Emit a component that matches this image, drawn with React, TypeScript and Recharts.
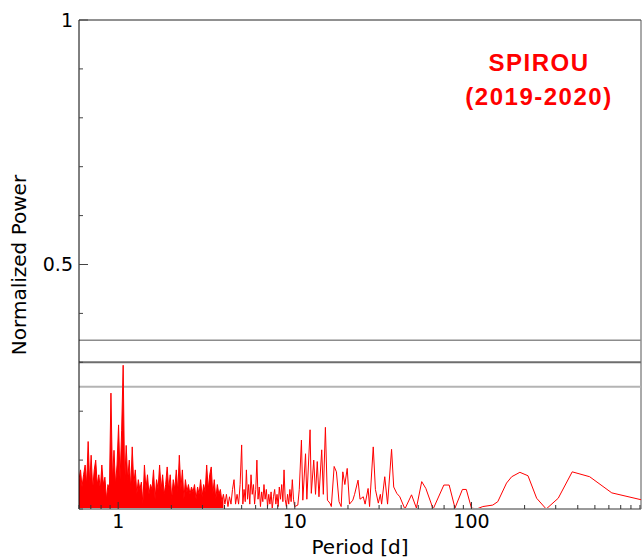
import { ComposedChart, Line, Area, XAxis, YAxis, ReferenceLine } from "recharts";

// periodogram, split by period range
// below ~4 d the curve is so dense that it reads as a filled band: values there are its upper envelope
const PERIODS_A = [
  0.6, 0.612, 0.624, 0.637, 0.65, 0.663, 0.676, 0.69, 0.703, 0.717,
  0.732, 0.746, 0.761, 0.777, 0.792, 0.808, 0.824, 0.841, 0.858, 0.875,
  0.892, 0.91, 0.928, 0.947, 0.966, 0.985, 1.005,
];
const POWER_A = [
  0.06, 0.08, 0.045, 0.07, 0.09, 0.05, 0.138, 0.05, 0.11, 0.04,
  0.08, 0.1, 0.05, 0.07, 0.04, 0.09, 0.05, 0.065, 0.02, 0.05,
  0.04, 0.237, 0.06, 0.12, 0.05, 0.09, 0.172,
];

const PERIODS_B = [
  1.025, 1.046, 1.067, 1.088, 1.11, 1.132, 1.155, 1.178, 1.201, 1.225,
  1.25, 1.275, 1.3, 1.326, 1.353, 1.38, 1.408, 1.436, 1.465, 1.494,
  1.524, 1.554, 1.585, 1.617, 1.649, 1.682, 1.716, 1.75, 1.785, 1.821,
  1.857, 1.894, 1.932, 1.971, 2.01,
];
const POWER_B = [
  0.06, 0.16, 0.294, 0.05, 0.13, 0.06, 0.1, 0.04, 0.127, 0.05,
  0.08, 0.03, 0.06, 0.04, 0.055, 0.01, 0.09, 0.04, 0.07, 0.03,
  0.05, 0.04, 0.08, 0.02, 0.06, 0.04, 0.09, 0.04, 0.07, 0.03,
  0.05, 0.086, 0.04, 0.07, 0.02,
];

const PERIODS_C = [
  2.05, 2.091, 2.133, 2.176, 2.219, 2.264, 2.309, 2.355, 2.402, 2.45,
  2.499, 2.549, 2.6, 2.652, 2.705, 2.76, 2.815, 2.871, 2.929, 2.987,
  3.047, 3.108, 3.17, 3.234, 3.298, 3.364, 3.432, 3.5, 3.57, 3.642,
  3.715, 3.789, 3.865, 3.942, 4.021, 4.101, 4.183, 4.267, 4.352, 4.439,
  4.528, 4.619, 4.711, 4.805, 4.902, 5.0,
];
const POWER_C = [
  0.06, 0.04, 0.08, 0.035, 0.11, 0.04, 0.08, 0.02, 0.06, 0.035,
  0.05, 0.03, 0.045, 0.035, 0.05, 0.02, 0.045, 0.03, 0.06, 0.025,
  0.05, 0.035, 0.09, 0.04, 0.07, 0.086, 0.03, 0.06, 0.02, 0.05,
  0.03, 0.04, 0.015, 0.03, 0.01, 0.03, 0.005, 0.025, 0.01, 0.04,
  0.06, 0.01, 0.03, 0.01, 0.05, 0.131,
];

const PERIODS_D = [
  5.08, 5.16, 5.24, 5.32, 5.4, 5.48, 5.56, 5.65, 5.74, 5.83,
  5.92, 6.01, 6.1, 6.19, 6.29, 6.39, 6.49, 6.59, 6.69, 6.79,
  6.9, 7.01, 7.12, 7.23, 7.34, 7.45, 7.57, 7.69, 7.81, 7.93,
  8.05, 8.17, 8.3, 8.43, 8.56, 8.69, 8.82, 8.96, 9.1, 9.24,
  9.38, 9.53, 9.68, 9.83, 9.98,
];
const POWER_D = [
  0.01, 0.04, 0.015, 0.08, 0.02, 0.05, 0.01, 0.07, 0.03, 0.05,
  0.01, 0.04, 0.1, 0.02, 0.045, 0.005, 0.035, 0.015, 0.05, 0.02,
  0.04, 0.005, 0.03, 0.01, 0.035, 0.0, 0.025, 0.04, 0.01, 0.03,
  0.005, 0.045, 0.02, 0.05, 0.015, 0.08, 0.02, 0.005, 0.03, 0.01,
  0.04, 0.015, 0.06, 0.02, 0.005,
];

const PERIODS_E = [
  10.4, 10.6, 10.9, 11.1, 11.5, 11.7, 12.2, 12.4, 12.8, 13.1,
  13.4, 13.7, 14.2, 14.5, 14.9, 15.3, 15.8, 16.1, 16.7, 17.2,
  17.8, 18.3, 18.7, 19.2, 19.8, 20.4, 21.3, 21.8, 22.8, 23.4,
  24.4, 25.0, 26.0, 26.5, 27.8, 28.6, 29.7, 30.5, 31.0, 32.3,
  33.5, 35.3, 36.3, 37.8, 39.3,
];
const POWER_E = [
  0.008, 0.04, 0.141, 0.018, 0.113, 0.02, 0.162, 0.032, 0.1, 0.03,
  0.097, 0.025, 0.121, 0.03, 0.167, 0.018, 0.012, 0.005, 0.087, 0.076,
  0.015, 0.005, 0.076, 0.05, 0.083, 0.01, 0.018, 0.03, 0.059, 0.02,
  0.025, 0.01, 0.042, 0.005, 0.127, 0.04, 0.012, 0.03, 0.01, 0.066,
  0.01, 0.122, 0.045, 0.032, 0.025,
];

const PERIODS_F = [
  42, 45.8, 48.8, 52.3, 55.2, 60.7, 69.8, 74.8, 80.7, 88.9,
  93.5, 100, 107, 116, 132, 141, 158, 169, 188, 209,
  234, 265, 310, 372, 467, 623, 912,
];
const POWER_F = [
  0.0, 0.029, 0.002, 0.056, 0.042, 0.0, 0.049, 0.049, 0.002, 0.04,
  0.04, 0.002, 0.0, 0.005, 0.008, 0.015, 0.053, 0.066, 0.075, 0.068,
  0.022, 0.0, 0.022, 0.076, 0.066, 0.033, 0.019,
];

const PERIODS = [...PERIODS_A, ...PERIODS_B, ...PERIODS_C, ...PERIODS_D, ...PERIODS_E, ...PERIODS_F];
const POWER = [...POWER_A, ...POWER_B, ...POWER_C, ...POWER_D, ...POWER_E, ...POWER_F];
const DENSE_UNTIL = 4.0;

const X_TICKS = [
  0.6, 0.7, 0.8, 0.9, 1, 2, 3, 4, 5, 6, 7, 8, 9, 10, 20, 30, 40, 50, 60, 70, 80, 90,
  100, 200, 300, 400, 500, 600, 700, 800, 900,
];
const X_LABELS = [1, 10, 100];
const Y_TICKS = [0, 0.1, 0.2, 0.3, 0.4, 0.5, 0.6, 0.7, 0.8, 0.9, 1];
const Y_LABELS = [0.5, 1];
const FAP_LEVELS = [0.345, 0.3, 0.25];
const FAP_COLORS = ["#8c8c8c", "#6e6e6e", "#b4b4b4"];
const FAP_WIDTHS = [1.5, 2, 2];

const X_MIN = 0.6;
const X_MAX = 912;

const data = PERIODS.map((p, i) => ({
  period: p,
  power: POWER[i],
  dense: p <= DENSE_UNTIL ? POWER[i] : undefined,
}));

const FONT = "'DejaVu Sans', sans-serif";

function XTick({ x, y, payload }: any) {
  const major = X_LABELS.includes(payload.value);
  return (
    <g>
      <line x1={x} x2={x} y1={y} y2={y - (major ? 7 : 4)} stroke="#333" />
      {major && (
        <text x={x} y={y + 19} textAnchor="middle" fontSize={19} fontFamily={FONT} fill="#000">
          {payload.value}
        </text>
      )}
    </g>
  );
}

function YTick({ x, y, payload }: any) {
  const major = Y_LABELS.includes(payload.value);
  return (
    <g>
      <line x1={x} x2={x + (major ? 9 : 4)} y1={y} y2={y} stroke="#444" />
      {major && (
        <text x={x - 6} y={y} dy="0.35em" textAnchor="end" fontSize={19} fontFamily={FONT} fill="#000">
          {payload.value}
        </text>
      )}
    </g>
  );
}

export default function App() {
  return (
    <div style={{ position: "absolute", left: 0, top: 0, width: 643, height: 560, background: "#fff" }}>
      <ComposedChart width={643} height={560} data={data} margin={{ top: 20, right: 2, left: 0, bottom: 0 }}>
        <XAxis
          dataKey="period"
          type="number"
          scale="log"
          domain={[X_MIN, X_MAX]}
          allowDataOverflow
          ticks={X_TICKS}
          interval={0}
          tick={<XTick />}
          tickLine={false}
          tickSize={0}
          tickMargin={0}
          height={51}
          axisLine={{ stroke: "#9a9a9a", strokeWidth: 2 }}
        />
        <YAxis
          type="number"
          domain={[0, 1]}
          ticks={Y_TICKS}
          interval={0}
          tick={<YTick />}
          tickLine={false}
          tickSize={0}
          tickMargin={0}
          width={79}
          axisLine={{ stroke: "#000" }}
        />
        <ReferenceLine y={1} stroke="#222" />
        <ReferenceLine x={X_MAX} stroke="#555" />
        {FAP_LEVELS.map((lvl, i) => (
          <ReferenceLine key={lvl} y={lvl} stroke={FAP_COLORS[i]} strokeWidth={FAP_WIDTHS[i]} />
        ))}
        <Area
          type="linear"
          dataKey="dense"
          stroke="none"
          fill="#ff0000"
          fillOpacity={1}
          connectNulls={false}
          dot={false}
          activeDot={false}
          isAnimationActive={false}
        />
        <Line
          type="linear"
          dataKey="power"
          stroke="#ff0000"
          strokeWidth={1}
          dot={false}
          isAnimationActive={false}
        />
      </ComposedChart>
      <div
        style={{
          position: "absolute",
          left: 19,
          top: 264.5,
          transform: "translate(-50%, -50%) rotate(-90deg)",
          whiteSpace: "nowrap",
          fontFamily: FONT,
          fontSize: 20,
          color: "#000",
        }}
      >
        Normalized Power
      </div>
      <div
        style={{
          position: "absolute",
          left: 260,
          top: 535,
          width: 200,
          textAlign: "center",
          lineHeight: "24px",
          fontFamily: FONT,
          fontSize: 20,
          color: "#000",
        }}
      >
        Period [d]
      </div>
      <div
        style={{
          position: "absolute",
          left: 439,
          top: 46,
          width: 200,
          textAlign: "center",
          lineHeight: "34px",
          fontFamily: "'Liberation Sans', Arial, sans-serif",
          fontWeight: "bold",
          fontSize: 24,
          letterSpacing: 1.5,
          color: "#ff0000",
        }}
      >
        SPIROU
        <br />
        (2019-2020)
      </div>
    </div>
  );
}
